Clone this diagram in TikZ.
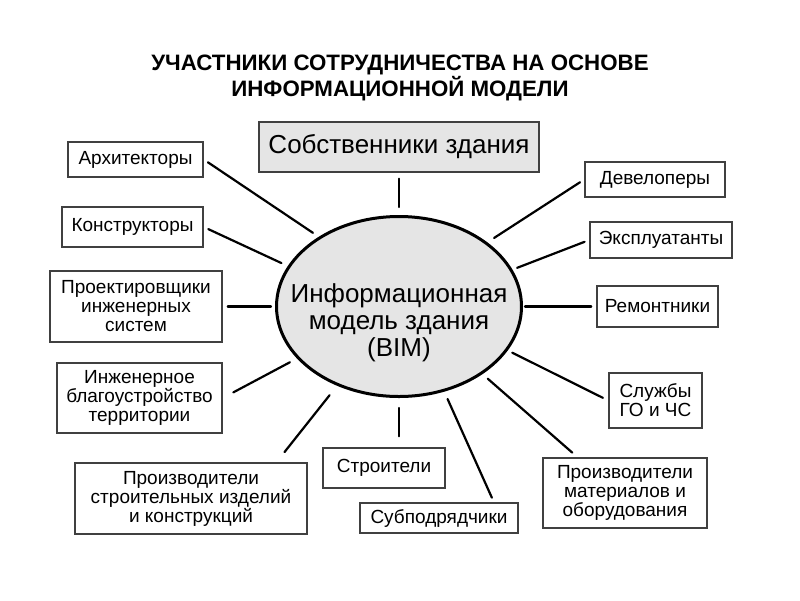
\documentclass[tikz,border=0pt]{standalone}
\usepackage{fontspec}
\setmainfont{Liberation Sans}
\usetikzlibrary{shapes.geometric}
\usetikzlibrary{positioning}

\begin{document}
\begin{tikzpicture}[x=1pt, y=-1pt,
    box/.style={draw=black!75, line width=1.5pt, fill=white, rectangle, align=center, inner sep=0pt, font=\fontsize{19}{19}\selectfont},
    link/.style={line width=2.2pt, line cap=round}]
\useasboundingbox (0,0) rectangle (800,600);
            \node[align=center, font=\fontsize{22.3}{25.5}\selectfont\bfseries] (title) at (400,78) {УЧАСТНИКИ СОТРУДНИЧЕСТВА НА ОСНОВЕ\\ИНФОРМАЦИОННОЙ МОДЕЛИ};

            \node[draw, ellipse, line width=3pt, fill=black!10, minimum width=245pt, minimum height=180pt, inner sep=0pt] (bim) at (399,306.5) {};
            \node[align=center, font=\fontsize{26}{27}\selectfont] (bimtext) at (399,323) {Информационная\\модель здания\\(BIM)};

            \node[box, fill=black!10, minimum width=280pt, minimum height=50pt, font=\fontsize{26}{27}\selectfont] (owners) at (399,147) {Собственники здания};
            \node[box, minimum width=135pt, minimum height=35pt] (architects) at (135.5,159.5) {Архитекторы};
            \node[box, minimum width=141pt, minimum height=40pt] (constructors) at (132.5,227) {Конструкторы};
            \node[box, minimum width=172pt, minimum height=71pt] (engineers) at (136,306.5) {Проектировщики\\инженерных\\систем};
            \node[box, minimum width=165pt, minimum height=70pt] (landscaping) at (139.5,398) {Инженерное\\благоустройство\\территории};
            \node[box, minimum width=232pt, minimum height=71pt] (products) at (191,498.5) {Производители\\строительных изделий\\и конструкций};
            \node[box, minimum width=122pt, minimum height=40pt] (builders) at (384,468) {Строители};
            \node[box, minimum width=158pt, minimum height=30pt] (subcontractors) at (439,518) {Субподрядчики};
            \node[box, minimum width=164pt, minimum height=70pt] (suppliers) at (625,493) {Производители\\материалов и\\оборудования};
            \node[box, minimum width=93pt, minimum height=55pt] (emergency) at (655.5,400.5) {Службы\\ГО и ЧС};
            \node[box, minimum width=121pt, minimum height=41pt] (repairers) at (657.5,306.5) {Ремонтники};
            \node[box, minimum width=142pt, minimum height=36pt] (operators) at (661,240) {Эксплуатанты};
            \node[box, minimum width=140pt, minimum height=35pt] (developers) at (655,179.5) {Девелоперы};

            \draw[link, shorten <=6pt, shorten >=8pt] (owners.south) -- (bim.north);
            \draw[link, shorten <=7pt, shorten >=5pt] (bim.139) -- (architects.east);
            \draw[link, shorten <=7pt, shorten >=5pt] (bim.160) -- (constructors.east);
            \draw[link, shorten <=4pt, shorten >=5pt] (bim.west) -- (engineers.east);
            \draw[link, shorten <=8pt, shorten >=12pt] (bim.-153) -- (landscaping.east);
            \draw[link, shorten <=12pt, shorten >=13pt] (bim.-128) -- (products.23);
            \draw[link, shorten <=10pt, shorten >=11pt] (bim.south) -- (bim.south |- builders.north);
            \draw[link, shorten <=8pt, shorten >=5pt] (bim.-62) -- (subcontractors.16);
            \draw[link, shorten <=7pt, shorten >=7pt] (bim.-39) -- (suppliers.143);
            \draw[link, shorten <=5pt, shorten >=6pt] (bim.-22) -- (emergency.west);
            \draw[link, shorten <=2pt, shorten >=5pt] (bim.east) -- (repairers.west);
            \draw[link, shorten <=5pt, shorten >=5pt] (bim.18) -- (operators.west);
            \draw[link, shorten <=8pt, shorten >=5pt] (bim.36) -- (developers.west);
        \end{tikzpicture}
\end{document}
